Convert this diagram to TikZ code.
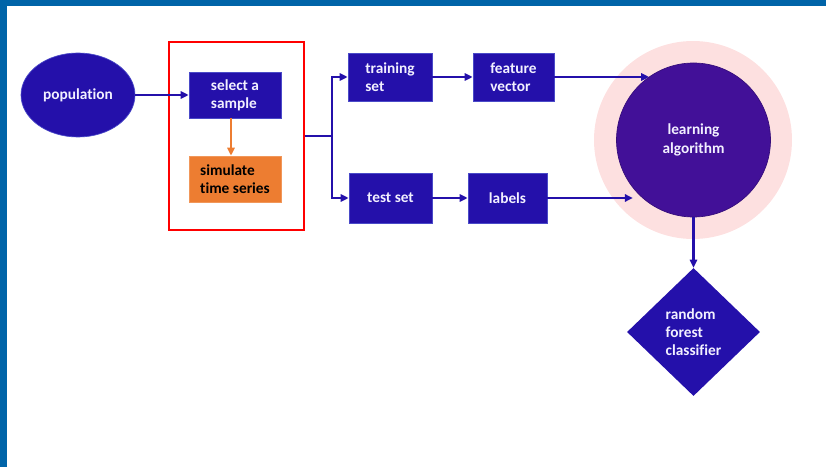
\documentclass[tikz,border=0pt]{standalone}
\usepackage{fontspec}
\setmainfont{Carlito}[Ligatures=NoCommon]
\usepackage{tikz}
\usetikzlibrary{arrows.meta,positioning,calc,shapes.geometric}
\definecolor{bandblue}{HTML}{0064A8}
\definecolor{boxblue}{HTML}{2410AA}
\definecolor{boxedge}{HTML}{4A4AC8}
\definecolor{algpurple}{HTML}{421098}
\definecolor{halopink}{HTML}{FDE0E0}
\definecolor{simorange}{HTML}{ED7D31}
\definecolor{txtlight}{HTML}{F2F0FF}
\tikzset{
  lbl/.style     = {font=\bfseries\fontsize{11.5}{13.7}\selectfont},
  bx/.style      = {lbl, rectangle, fill=boxblue, draw=boxedge, line width=0.5pt,
                    text=txtlight, align=left, inner sep=0pt},
  bxsim/.style   = {lbl, rectangle, fill=simorange, draw=simorange!80!white,
                    line width=0.5pt, text=black, align=left, inner sep=0pt},
  pop/.style     = {lbl, ellipse, fill=boxblue, draw=boxedge, line width=0.5pt,
                    text=txtlight, inner sep=0pt},
  alg/.style     = {lbl, circle, fill=algpurple, draw=algpurple!80!black,
                    line width=0.5pt, text=txtlight, align=center, inner sep=0pt},
  rfc/.style     = {lbl, diamond, fill=boxblue, text=txtlight, align=left,
                    inner sep=0pt},
  stage/.style   = {rectangle, draw=red, line width=1.6pt},
  arr/.style     = {draw=boxblue, line width=1.6pt,
                    -{Triangle[length=6pt,width=5.5pt]}},
  arrorg/.style  = {draw=simorange, line width=1.6pt,
                    -{Triangle[length=6pt,width=5.5pt]}},
  lnk/.style     = {draw=boxblue, line width=1.6pt},
}

\begin{document}
\begin{tikzpicture}[x=0.75pt, y=-0.75pt]
  \useasboundingbox (0,0) rectangle (826,467);
  \fill[bandblue] (0,0) rectangle (826,6);
  \fill[bandblue] (0,0) rectangle (7,467);

  \fill[halopink] (693,140) circle[radius=99];

  \node[pop, minimum width=114*0.75pt, minimum height=84*0.75pt] (popu) at (78,95) {population};
  \node[stage, minimum width=135*0.75pt, minimum height=188*0.75pt] (stg) at (236.5,136) {};
  \node[bx, minimum width=92*0.75pt, minimum height=46*0.75pt] (sel) at (235,95) {select a\\sample};
  \node[bxsim, minimum width=92*0.75pt, minimum height=46*0.75pt] (sim) at (235,179) {simulate\\time series};
  \node[bx, minimum width=84*0.75pt, minimum height=48*0.75pt] (train) at (390,77) {training\\set};
  \node[bx, minimum width=81*0.75pt, minimum height=48*0.75pt] (feat) at (513.5,77) {feature\\vector};
  \node[bx, minimum width=83*0.75pt, minimum height=50*0.75pt] (test) at (390.5,198) {test set};
  \node[bx, minimum width=79*0.75pt, minimum height=50*0.75pt] (labs) at (507.5,198) {labels};
  \node[alg, minimum size=154*0.75pt] (learn) at (693.5,140) {learning\\algorithm};
  \node[rfc, minimum width=133*0.75pt, minimum height=128*0.75pt] (rf) at (693.5,332) {random\\forest\\classifier};
  \coordinate (split) at (332,136);

  \draw[arr] (popu) -- (sel);
  \draw[arrorg] ([xshift=-3pt]sel.south) -- ([xshift=-3pt]sim.north);
  \draw[lnk] (stg.east) -- (split);
  \draw[arr] (split) |- (train);
  \draw[arr] (split) |- (test);
  \draw[arr] (train) -- (feat);
  \draw[arr] (test) -- (labs);
  \draw[arr] (feat) -- (feat -| learn.125);
  \draw[arr] (labs) -- ($(labs -| learn.225)+(-6,0)$);
  \draw[arr] (learn) -- (rf);
\end{tikzpicture}
\end{document}
